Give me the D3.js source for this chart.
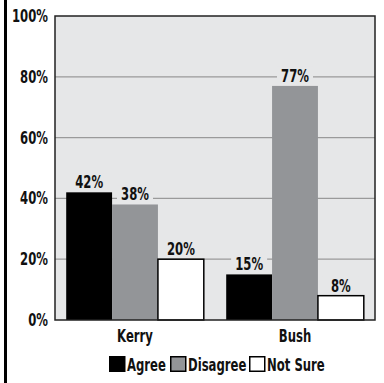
<!DOCTYPE html>
<html>
<head>
<meta charset="utf-8">
<script src="https://d3js.org/d3.v7.min.js"></script>
<style>
  body { margin: 0; background: #fff; }
  text { font-family: "DejaVu Sans Condensed", "DejaVu Sans", sans-serif; font-weight: bold; fill: #111; }
</style>
</head>
<body>
<svg id="chart"></svg>
<script>
    var candidates = ["Kerry", "Bush"];
    var answers = ["Agree", "Disagree", "Not Sure"];
    var agree = [42, 15];
    var disagree = [38, 77];
    var notSure = [20, 8];
    var yTicks = [0, 20, 40, 60, 80, 100];

    var colors = {"Agree": "#000000", "Disagree": "#939598", "Not Sure": "#ffffff"};

    var screen = {width: 384, height: 383};
    var margins = {left: 55, right: 9, top: 16, bottom: 63};
    var graph = {
        width: screen.width - margins.left - margins.right,
        height: screen.height - margins.top - margins.bottom
    };
    var squeeze = 0.72; // condensed look for the lettering
    var fontSize = 18;

    var place = function(x, y) {
        return "translate(" + x + "," + y + ") scale(" + squeeze + ",1)";
    };

    var svg = d3.select("#chart")
        .attr("width", screen.width)
        .attr("height", screen.height);

    // left border of the figure
    svg.append("line")
        .attr("x1", 5.5).attr("x2", 5.5)
        .attr("y1", 0).attr("y2", screen.height)
        .attr("stroke", "#000").attr("stroke-width", 3);

    var target = svg.append("g")
        .attr("transform", "translate(" + margins.left + "," + margins.top + ")");

    var xScale = d3.scaleBand()
        .domain(candidates)
        .range([0, graph.width])
        .paddingInner(0.14)
        .paddingOuter(0.07);

    var xInner = d3.scaleBand()
        .domain(answers)
        .range([0, xScale.bandwidth()]);

    var yScale = d3.scaleLinear()
        .domain([0, 100])
        .range([graph.height, 0]);

    target.append("rect")
        .attr("width", graph.width)
        .attr("height", graph.height)
        .attr("fill", "#e6e7e8");

    // grid lines
    target.selectAll(".grid")
        .data(yTicks.slice(1, -1))
        .enter()
        .append("line")
        .attr("x1", 0).attr("x2", graph.width)
        .attr("y1", function(d) { return yScale(d); })
        .attr("y2", function(d) { return yScale(d); })
        .attr("stroke", "#9a9a9a")
        .attr("stroke-width", 1.2);

    var rows = [];
    candidates.forEach(function(c, i) {
        rows.push({cand: c, ans: "Agree", value: agree[i]});
        rows.push({cand: c, ans: "Disagree", value: disagree[i]});
        rows.push({cand: c, ans: "Not Sure", value: notSure[i]});
    });

    target.selectAll(".bar")
        .data(rows)
        .enter()
        .append("rect")
        .attr("x", function(d) { return xScale(d.cand) + xInner(d.ans); })
        .attr("y", function(d) { return yScale(d.value); })
        .attr("width", xInner.bandwidth())
        .attr("height", function(d) { return graph.height - yScale(d.value); })
        .attr("fill", function(d) { return colors[d.ans]; })
        .attr("stroke", function(d) { return d.ans == "Not Sure" ? "#000" : "none"; })
        .attr("stroke-width", 1.5);

    // value labels with a little background so the grid breaks around them
    var labels = target.selectAll(".val")
        .data(rows)
        .enter()
        .append("g")
        .attr("transform", function(d) {
            return "translate(" + (xScale(d.cand) + xInner(d.ans) + xInner.bandwidth() / 2) + "," + (yScale(d.value) - 4) + ")";
        });
    labels.append("rect")
        .attr("x", -18).attr("y", -15)
        .attr("width", 36).attr("height", 15)
        .attr("fill", "#e6e7e8");
    labels.append("text")
        .attr("transform", "scale(" + squeeze + ",1)")
        .attr("text-anchor", "middle")
        .attr("font-size", fontSize)
        .text(function(d) { return d.value + "%"; });

    // frame
    target.append("rect")
        .attr("width", graph.width)
        .attr("height", graph.height)
        .attr("fill", "none")
        .attr("stroke", "#222")
        .attr("stroke-width", 1.5);

    target.selectAll(".ytick")
        .data(yTicks)
        .enter()
        .append("text")
        .attr("transform", function(d) { return place(-7, yScale(d) + 6); })
        .attr("text-anchor", "end")
        .attr("font-size", fontSize)
        .text(function(d) { return d + "%"; });

    target.selectAll(".xlab")
        .data(candidates)
        .enter()
        .append("text")
        .attr("transform", function(d) { return place(xScale(d) + xScale.bandwidth() / 2, graph.height + 22); })
        .attr("text-anchor", "middle")
        .attr("font-size", fontSize)
        .text(function(d) { return d; });

    // legend
    var legendX = [109, 170, 249];
    var legend = svg.selectAll(".legend")
        .data(answers)
        .enter()
        .append("g")
        .attr("transform", function(d, i) { return "translate(" + legendX[i] + ",356)"; });
    legend.append("rect")
        .attr("x", 0.75).attr("y", 0.75)
        .attr("width", 15).attr("height", 14.5)
        .attr("fill", function(d) { return colors[d]; })
        .attr("stroke", "#000")
        .attr("stroke-width", 1.5);
    legend.append("text")
        .attr("transform", place(18, 14.5))
        .attr("font-size", fontSize)
        .text(function(d) { return d; });
</script>
</body>
</html>
